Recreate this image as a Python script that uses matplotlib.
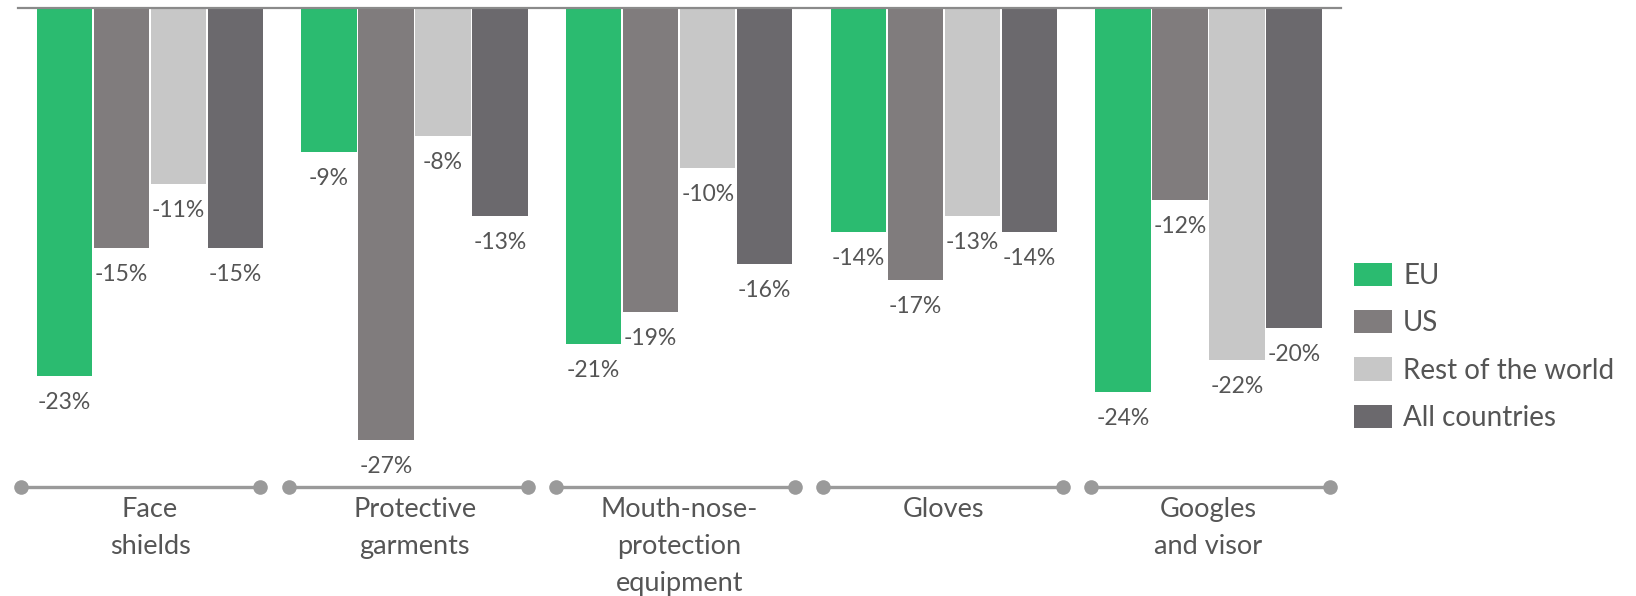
import matplotlib.pyplot as plt
import numpy as np

# data (% change)
categories = ["Face\nshields", "Protective\ngarments", "Mouth-nose-\nprotection\nequipment",
              "Gloves", "Googles\nand visor"]
series = ["EU", "US", "Rest of the world", "All countries"]
eu = [-23, -9, -21, -14, -24]
us = [-15, -27, -19, -17, -12]
rest = [-11, -8, -10, -13, -22]
all_countries = [-15, -13, -16, -14, -20]

colors = ["#2bbb70", "#807c7d", "#c7c7c7", "#6b696d"]
text_color = "#555555"
line_color = "#9a9a9a"

plt.rcParams['font.family'] = ['Lato', 'DejaVu Sans']

W, H = 1636, 596
fig = plt.figure(figsize=(W / 100, H / 100), dpi=100)
ax = fig.add_axes([0, 0, 1, 1])

# pixel layout -> data units
gx0, gstep = 150, 264.6     # first group centre and group pitch (px)
y0, ystep = 8, 16.0          # zero line and px per percent
ax.set_xlim(-gx0 / gstep, (W - gx0) / gstep)
ax.set_ylim(-(H - y0) / ystep, y0 / ystep)
ax.axis('off')

x = np.arange(len(categories))
pitch = 57 / gstep
width = 55.5 / gstep
values = [eu, us, rest, all_countries]

for j, (name, vals) in enumerate(zip(series, values)):
    off = (j - 1.5) * pitch
    ax.bar(x + off, vals, width=width, color=colors[j], label=name, zorder=2)
    for xi, v in zip(x, vals):
        ax.annotate(f"{v}%", (xi + off, v), xytext=(0, -19), textcoords='offset points',
                    ha='center', va='center', fontsize=16.5, color=text_color)

# top baseline
ax.plot([(18 - gx0) / gstep, (1341 - gx0) / gstep], [0, 0], color="#8a8a8a", lw=1.6, zorder=3)

# group separators with dots and category labels
ysep = -(487 - y0) / ystep
for i, cat in enumerate(categories):
    left = (21 - gx0) / gstep + i * 267.5 / gstep
    right = left + 239 / gstep
    ax.plot([left, right], [ysep, ysep], color=line_color, lw=2.4,
            marker='o', ms=10.5, markeredgewidth=0, zorder=2)
    ax.annotate(cat, (i, ysep), xytext=(0, -7), textcoords='offset points',
                ha='center', va='top', fontsize=19.5, color=text_color, linespacing=1.6)

leg = ax.legend(loc='upper left', bbox_to_anchor=(1354 / W, 1 - 263 / H),
                bbox_transform=fig.transFigure, frameon=False, fontsize=20,
                handlelength=1.37, handleheight=0.9, handletextpad=0.4,
                labelspacing=0.76, borderpad=0, borderaxespad=0)
for t in leg.get_texts():
    t.set_color(text_color)

fig.savefig("out.png", dpi=100)
